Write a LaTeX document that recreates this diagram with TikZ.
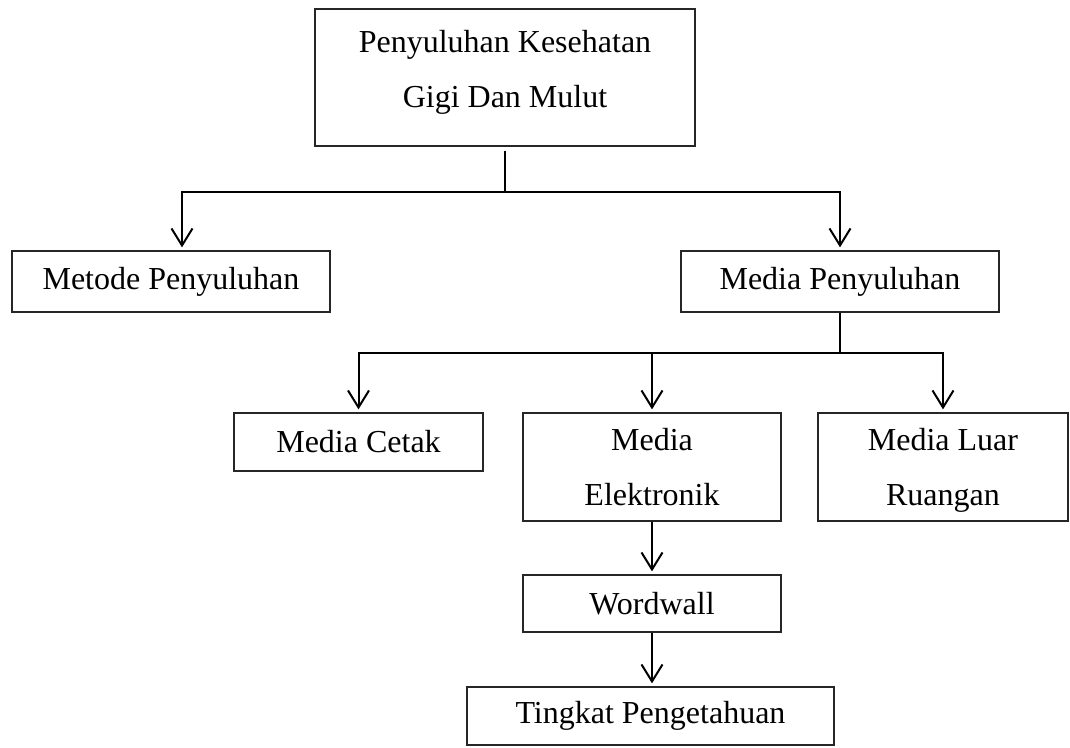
\documentclass[tikz,border=0pt]{standalone}
\usepackage{fontspec}
\setmainfont{Liberation Serif}
\usetikzlibrary{positioning}
\usetikzlibrary{arrows.meta}

\tikzset{
	kotak/.style={draw=black!85,line width=1.3pt,align=center,inner sep=0pt,
		font=\fontsize{32pt}{55pt}\selectfont},
	garis/.style={line width=2pt},
	panah/.style={garis,-{Straight Barb[length=17pt,width=21pt,line width=2pt]},shorten >=3pt}
}

\begin{document}
\begin{tikzpicture}[x=1pt,y=1pt]
			\useasboundingbox (0,0) rectangle (1070,-747);
		 	\node[kotak,minimum width=380pt,minimum height=137pt,text depth=18pt] (utama) at (505,-77.5)
		    {
				Penyuluhan Kesehatan \\ Gigi Dan Mulut
		     }; 
 			\node[kotak,minimum width=318pt,minimum height=61pt] (metode) at (171,-281.5)
    		{Metode Penyuluhan};
 			\node[kotak,minimum width=318pt,minimum height=61pt] (media) at (840,-281.5)
    		{Media Penyuluhan};
 			\node[kotak,minimum width=249pt,minimum height=58pt] (cetak) at (358.5,-442)
    		{Media Cetak};
 			\node[kotak,minimum width=258pt,minimum height=108pt] (elektronik) at (652,-467)
    		{Media \\ Elektronik};
 			\node[kotak,minimum width=250pt,minimum height=108pt,text depth=0pt] (luar) at (943,-467)
    		{Media Luar \\ Ruangan};
 			\node[kotak,minimum width=258pt,minimum height=57pt] (wordwall) at (652,-603.5)
    		{Wordwall};
 			\node[kotak,minimum width=367pt,minimum height=58pt] (tingkat) at (650.5,-716)
    		{Tingkat Pengetahuan};
	        % cabang pertama
	        \coordinate (j1) at (utama.south |- 0,-192);
	        \coordinate (kiri1) at (182,-192);
	        \draw[garis,shorten <=4pt] (utama.south) -- (j1);
	        \draw[panah] (j1) -- (kiri1) -- (kiri1 |- metode.north);
        	\draw[panah] (j1) -| (media.north);
	        % cabang kedua
	        \coordinate (j2) at (media.south |- 0,-353);
	        \draw[garis] (media.south) -- (j2);
	        \draw[panah] (j2) -| (cetak.north);
	        \draw[panah] (j2) -| (elektronik.north);
	        \draw[panah] (j2) -| (luar.north);
	        % ke bawah
	        \draw[panah] (elektronik.south) -- (wordwall.north);
	        \draw[panah] (wordwall.south) -- (wordwall.south |- tingkat.north);
		\end{tikzpicture}
\end{document}
